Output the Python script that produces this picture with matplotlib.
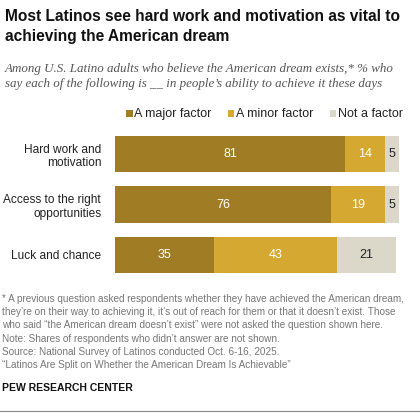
import matplotlib

matplotlib.use("Agg")
import matplotlib.pyplot as plt

plt.rcParams["font.family"] = ["Liberation Sans", "DejaVu Sans"]

CATEGORIES = ["Hard work and\nmotivation", "Access to the right\nopportunities", "Luck and chance"]
MAJOR = [81, 76, 35]
MINOR = [14, 19, 43]
NOT_FACTOR = [5, 5, 21]
SERIES_NAMES = ["A major factor", "A minor factor", "Not a factor"]

COLORS = ["#A07D24", "#D5A831", "#DCD8C9"]
TEXT_COLORS = ["white", "white", "#222222"]

fig = plt.figure(figsize=(4.2, 4.2), dpi=100, facecolor="white")
ax = fig.add_axes([0.274, 0.333, 0.676, 0.36])

series = [MAJOR, MINOR, NOT_FACTOR]
ypos = list(range(len(CATEGORIES)))
left = [0] * len(CATEGORIES)
for vals, color, tcol in zip(series, COLORS, TEXT_COLORS):
    ax.barh(ypos, vals, left=left, height=0.72, color=color, edgecolor="none")
    for y, l, v in zip(ypos, left, vals):
        ax.text(l + v / 2, y, str(v), ha="center", va="center", fontsize=9, color=tcol)
    left = [a + b for a, b in zip(left, vals)]

ax.set_xlim(0, 100)
ax.set_ylim(len(CATEGORIES) - 0.5, -0.5)
ax.set_yticks(ypos)
ax.set_yticklabels(CATEGORIES, fontsize=8.6, color="#222222")
ax.tick_params(axis="y", length=0, pad=10)
ax.set_xticks([])
for s in ax.spines.values():
    s.set_visible(False)

# legend
leg_x = [0.303, 0.545, 0.788]
for x, name, color in zip(leg_x, SERIES_NAMES, COLORS):
    fig.patches.append(plt.Rectangle((x - 0.003, 0.721), 0.016, 0.016, transform=fig.transFigure,
                                     facecolor=color, edgecolor="none"))
    fig.text(x + 0.017, 0.729, name, fontsize=9, va="center", ha="left", color="#222222")

fig.text(0.012, 0.978, "Most Latinos see hard work and motivation as vital to\nachieving the American dream",
         fontsize=11.2, fontweight="bold", va="top", ha="left", color="#111111", linespacing=1.4)
fig.text(0.012, 0.850, "Among U.S. Latino adults who believe the American dream exists,* % who\n"
         "say each of the following is __ in people\u2019s ability to achieve it these days",
         fontsize=9.4, style="italic", family="Liberation Serif", va="top", ha="left",
         color="#555555", linespacing=1.3)

foot = ("* A previous question asked respondents whether they have achieved the American dream,\n"
        "they\u2019re on their way to achieving it, it\u2019s out of reach for them or that it doesn\u2019t exist. Those\n"
        "who said \u201cthe American dream doesn\u2019t exist\u201d were not asked the question shown here.\n"
        "Note: Shares of respondents who didn\u2019t answer are not shown.\n"
        "Source: National Survey of Latinos conducted Oct. 6-16, 2025.\n"
        "\u201cLatinos Are Split on Whether the American Dream Is Achievable\u201d")
fig.text(0.005, 0.300, foot, fontsize=7.2, va="top", ha="left", color="#777777", linespacing=1.4)
fig.text(0.005, 0.087, "PEW RESEARCH CENTER", fontsize=7.5, fontweight="bold", va="top", ha="left",
         color="#111111")
fig.add_artist(plt.Line2D([0, 1], [0.022, 0.022], transform=fig.transFigure, color="#888888", lw=0.8))

fig.savefig("out.png", dpi=100, facecolor="white")
